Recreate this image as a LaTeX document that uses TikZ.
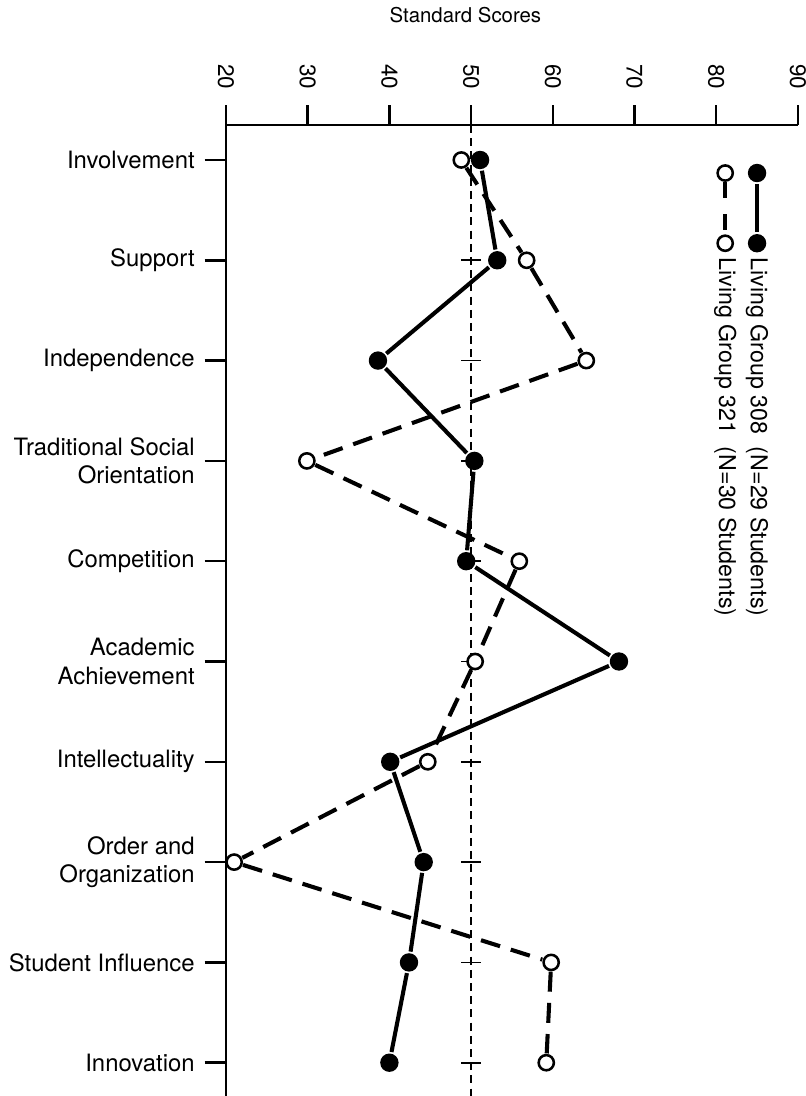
\documentclass[tikz,border=0pt]{standalone}
\usepackage{fontspec}
\setmainfont{TeX Gyre Heros}

\tikzset{
  axisline/.style={line width=1.8pt},
  refline/.style={line width=1pt,dash pattern=on 0.2cm off 0.13cm},
  filledpt/.style={circle,fill=black,inner sep=0pt,minimum size=0.46cm,outer sep=1.2pt},
  openpt/.style={circle,draw=black,fill=white,line width=1.8pt,inner sep=0pt,minimum size=0.38cm,outer sep=1.2pt},
  solidline/.style={line width=2.9pt},
  dashline/.style={line width=2.9pt,dash pattern=on 0.5cm off 0.28cm},
  catlabel/.style={anchor=east,align=right,inner sep=0pt,font=\fontsize{17}{20}\selectfont},
  numlabel/.style={rotate=-90,inner sep=0pt,font=\fontsize{16}{19}\selectfont},
  legtext/.style={rotate=-90,anchor=west,inner sep=0pt,font=\fontsize{16.5}{20}\selectfont}
}

\begin{document}
\begin{tikzpicture}[x=0.20425cm,y=-2.5075cm]
    \useasboundingbox (-7.66,-1.595) rectangle (90.99,9.332);

    % axes
    \node[font=\fontsize{14.5}{17}\selectfont] (title) at (49.3,-1.44) {Standard Scores};
    \draw[axisline] (20,-0.349) -- (90,-0.349);
    \draw[axisline] (20,-0.349) -- (20,9.332);
    \foreach \v in {20,30,...,90} {
        \draw[axisline] (\v,-0.349) -- (\v,-0.55);
        \node[numlabel] (n\v) at (\v,-0.83) {\v};
    }
    \draw[refline] (50,-0.349) -- (50,9.332);
    \foreach \i in {1,...,9}
        \draw[line width=1.2pt] (48.8,\i) -- (51.2,\i);

    % scale names
    \foreach \i/\txt in {0/Involvement, 1/Support, 2/Independence,
        3/Traditional Social\\Orientation, 4/Competition,
        5/Academic\\Achievement, 6/Intellectuality,
        7/Order and\\Organization, 8/Student Influence, 9/Innovation} {
        \draw[axisline] (17.4,\i) -- (20,\i);
        \node[catlabel] (c\i) at (16.2,\i) {\txt};
    }

    % Living Group 321
    \foreach \i/\v in {0/48.8, 1/56.8, 2/64.1, 3/29.9, 4/55.9,
        5/50.5, 6/44.7, 7/21.0, 8/59.8, 9/59.2}
        \node[openpt] (b\i) at (\v,\i) {};
    \draw[dashline] (b0) -- (b1) -- (b2) -- (b3) -- (b4) -- (b5)
        -- (b6) -- (b7) -- (b8) -- (b9);

    % Living Group 308
    \foreach \i/\v in {0/51.1, 1/53.2, 2/38.6, 3/50.4, 4/49.4,
        5/68.1, 6/40.1, 7/44.2, 8/42.4, 9/40.0}
        \node[filledpt] (a\i) at (\v,\i) {};
    \draw[solidline] (a0) -- (a1) -- (a2) -- (a3) -- (a4) -- (a5)
        -- (a6) -- (a7) -- (a8) -- (a9);

    % legend
    \node[filledpt] (f1) at (85,0.13) {};
    \node[filledpt] (f2) at (85,0.83) {};
    \draw[solidline] (f1) -- (f2);
    \node[legtext] (lf) at (85,0.97) {Living Group 308\ \ (N=29 Students)};
    \node[openpt] (o1) at (81.1,0.13) {};
    \node[openpt] (o2) at (81.1,0.83) {};
    \draw[solidline,dash pattern=on 0.4cm off 0.4cm] (o1) -- (o2);
    \node[legtext] (lo) at (81.1,0.97) {Living Group 321\ \ (N=30 Students)};
\end{tikzpicture}
\end{document}
